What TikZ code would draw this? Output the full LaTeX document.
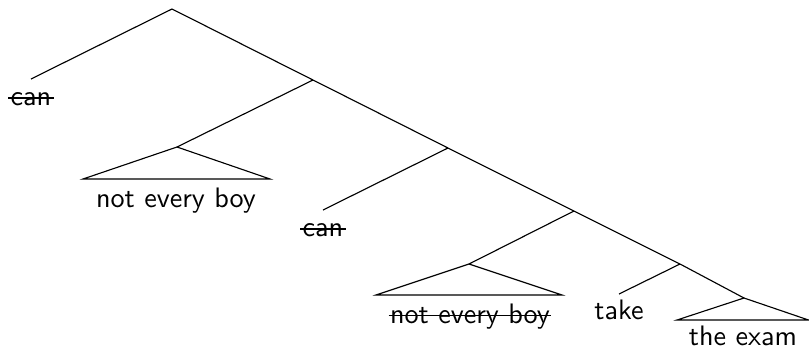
\documentclass[tikz,border=0pt]{standalone}
\begin{document}
\begin{tikzpicture}[x=0.355pt,y=-0.355pt,font=\sffamily,line width=0.4pt,
  leaf/.style={anchor=base,inner sep=0pt},
  strike/.style={line width=0.4pt}]
\useasboundingbox (0,0) rectangle (809,351);
% internal nodes
\coordinate (r)  at (172,9);
\coordinate (n1) at (313,80);
\coordinate (n2) at (448,148);
\coordinate (n3) at (574,211);
\coordinate (n4) at (680,264);
% leaves
\coordinate (c1top) at (31,79);
\node[leaf] (c1) at (31,105) {can};
\coordinate (t1) at (177,147);
\coordinate (t1l) at (83,179);
\coordinate (t1r) at (270,179);
\node[leaf] (neb1) at (176,207) {not every boy};
\coordinate (c2top) at (323,210);
\node[leaf] (c2) at (323,236) {can};
\coordinate (t2) at (469,264);
\coordinate (t2l) at (376,295);
\coordinate (t2r) at (562,295);
\node[leaf] (neb2) at (470,323) {not every boy};
\coordinate (taketop) at (619,294);
\node[leaf] (take) at (619,319) {take};
\coordinate (t3) at (744,298);
\coordinate (t3l) at (677,320);
\coordinate (t3r) at (808.5,320);
\node[leaf] (exam) at (743,345) {the exam};
% branches
\draw (c1top) -- (r) -- (n1) -- (n2) -- (n3) -- (n4) -- (t3);
\draw (n1) -- (t1);
\draw (n2) -- (c2top);
\draw (n3) -- (t2);
\draw (n4) -- (taketop);
% triangles
\draw (t1) -- (t1l) -- (t1r) -- cycle;
\draw (t2) -- (t2l) -- (t2r) -- cycle;
\draw (t3) -- (t3l) -- (t3r) -- cycle;
% strike-throughs
\draw[strike] ([shift={(-0.6pt,2.5pt)}]c1.base west) -- ([shift={(0.6pt,2.5pt)}]c1.base east);
\draw[strike] ([shift={(-0.6pt,2.5pt)}]c2.base west) -- ([shift={(0.6pt,2.5pt)}]c2.base east);
\draw[strike] ([shift={(-0.3pt,2.7pt)}]neb2.base west) -- ([shift={(0.3pt,2.7pt)}]neb2.base east);
\end{tikzpicture}
\end{document}
